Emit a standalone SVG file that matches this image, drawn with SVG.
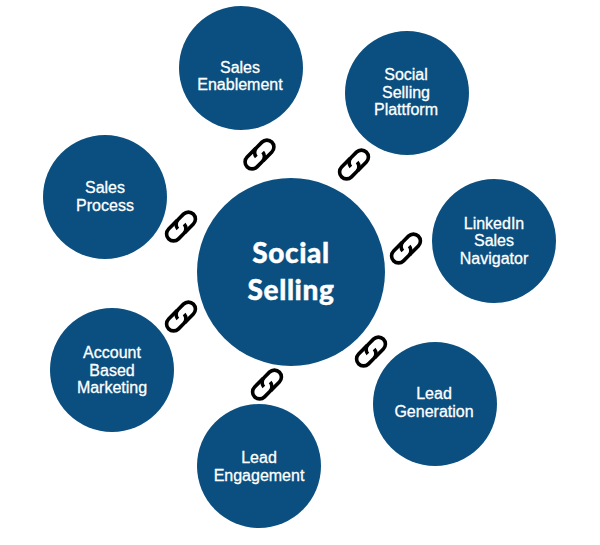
<svg xmlns="http://www.w3.org/2000/svg" width="600" height="545" viewBox="0 0 600 545">
<style>
.n{fill:#0a4f80}
.t{font-family:"Liberation Sans",Arial,sans-serif;font-size:16px;fill:#fff;stroke:#fff;stroke-width:.3;text-anchor:middle}
.c{font-family:Lato,"Open Sans",sans-serif;font-weight:900;font-size:28px;letter-spacing:.6px;fill:#fff;stroke:#fff;stroke-width:.4;text-anchor:middle}
.l{fill:none;stroke:#000;stroke-width:3.6;stroke-linecap:butt;stroke-linejoin:round}
</style>
<defs>
<g id="link" class="l" transform="rotate(-45)">
<path d="M2,-7H-10.500a7,7 0 0 0 0,14H-3a7,7 0 0 0 7,-6.500"/>
<path d="M-2,7H10.500a7,7 0 0 0 0,-14H3a7,7 0 0 0 -7,6.500"/>
</g>
</defs>
<rect width="600" height="545" fill="#fff"/>
<g id="connectors">
<use href="#link" x="259.500" y="154.500"/>
<use href="#link" x="354" y="164.500"/>
<use href="#link" x="406" y="248.500"/>
<use href="#link" x="371" y="351.500"/>
<use href="#link" x="267" y="384.500"/>
<use href="#link" x="181" y="316.500"/>
<use href="#link" x="181" y="226.500"/>
</g>
<g id="center"><circle class="n" cx="291" cy="272" r="94"/><text class="c" x="291" y="263">Social</text><text class="c" x="291" y="300">Selling</text></g>
<g id="sales-enablement"><circle class="n" cx="241" cy="68" r="62"/><text class="t" x="240" y="73">Sales</text><text class="t" x="240" y="90">Enablement</text></g>
<g id="platform"><circle class="n" cx="407" cy="93" r="62"/><text class="t" x="406" y="80">Social</text><text class="t" x="406" y="98">Selling</text><text class="t" x="406" y="115">Plattform</text></g>
<g id="linkedin"><circle class="n" cx="494" cy="241" r="62"/><text class="t" x="494" y="229">LinkedIn</text><text class="t" x="494" y="246">Sales</text><text class="t" x="494" y="264">Navigator</text></g>
<g id="lead-generation"><circle class="n" cx="435" cy="404" r="62"/><text class="t" x="434" y="399">Lead</text><text class="t" x="434" y="417">Generation</text></g>
<g id="lead-engagement"><circle class="n" cx="259" cy="466" r="62"/><text class="t" x="259" y="463">Lead</text><text class="t" x="259" y="481">Engagement</text></g>
<g id="abm"><circle class="n" cx="112" cy="370" r="62"/><text class="t" x="112" y="358">Account</text><text class="t" x="112" y="376">Based</text><text class="t" x="112" y="393">Marketing</text></g>
<g id="sales-process"><circle class="n" cx="105" cy="197" r="62"/><text class="t" x="105" y="193">Sales</text><text class="t" x="105" y="211">Process</text></g>
</svg>
